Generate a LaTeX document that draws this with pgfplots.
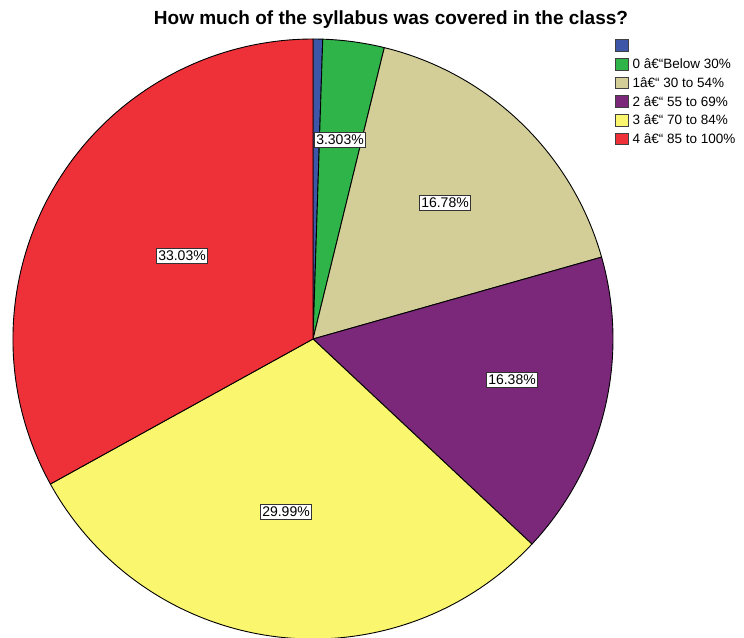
\documentclass[border=0pt]{standalone}
\usepackage{pgfplots}
\usepackage{pgfplotstable}
\pgfplotsset{compat=1.18}
\usepackage{fontspec}
\setmainfont{Liberation Sans}

\definecolor{slice0}{HTML}{3D56A8}
\definecolor{slice1}{HTML}{2FB44A}
\definecolor{slice2}{HTML}{D3CE97}
\definecolor{slice3}{HTML}{7B287B}
\definecolor{slice4}{HTML}{FAF66E}
\definecolor{slice5}{HTML}{EE3138}

% share of each category (%), label position in picture pixels
\pgfplotstableread{
idx pct lx ly show
0 0.517 0 0 0
1 3.303 340 140 1
2 16.78 445 203 1
3 16.38 512 380 1
4 29.99 286 512 1
5 33.03 182 256 1
}\piedata

\begin{document}
\begin{tikzpicture}
\begin{axis}[
  name=ax,
  x=1pt, y=1pt,
  xmin=0, xmax=744, ymin=0, ymax=637,
  y dir=reverse,
  hide axis,
  clip=true,
  legend style={draw=none, fill=none, at={(axis cs:615,39)}, anchor=north west,
    font=\fontsize{13.5}{15}\selectfont, row sep=6pt, inner sep=0pt,
    nodes={inner xsep=4pt, inner ysep=0.5pt},
    legend cell align=left},
  legend image code/.code={\draw[#1, draw=black!75, line width=0.9pt] (0pt,-5.5pt) rectangle (12.5pt,6pt);},
]
\pgfmathsetmacro{\cum}{0}
\pgfplotsforeachungrouped \i in {0,...,5}{%
  \pgfplotstablegetelem{\i}{pct}\of\piedata \let\p=\pgfplotsretval
  \pgfmathsetmacro{\sa}{90-3.6*\cum}%
  \pgfmathsetmacro{\ea}{\sa-3.6*\p}%
  \pgfmathsetmacro{\cum}{\cum+\p}%
  \global\let\cum=\cum
  \edef\temp{\noexpand\fill[fill=slice\i, draw=black, line width=0.9pt, line join=round]
    (axis cs:313,339) -- ++(\sa:300pt) arc[start angle=\sa, end angle=\ea, radius=300pt] -- cycle;}%
  \temp
}
\pgfplotsforeachungrouped \i in {1,...,5}{%
  \pgfplotstablegetelem{\i}{pct}\of\piedata \let\p=\pgfplotsretval
  \pgfplotstablegetelem{\i}{lx}\of\piedata \let\lx=\pgfplotsretval
  \pgfplotstablegetelem{\i}{ly}\of\piedata \let\ly=\pgfplotsretval
  \edef\temp{\noexpand\node[draw=black!80, line width=1pt, fill=white, inner xsep=2pt, inner ysep=3pt,
    font=\noexpand\fontsize{14}{16}\noexpand\selectfont] at (axis cs:\lx,\ly) {\p\noexpand\%};}%
  \temp
}
\node[font=\fontsize{19}{21}\selectfont\bfseries] at (axis cs:391,20) {How much of the syllabus was covered in the class?};
\addlegendimage{fill=slice0}
\addlegendimage{fill=slice1}
\addlegendimage{fill=slice2}
\addlegendimage{fill=slice3}
\addlegendimage{fill=slice4}
\addlegendimage{fill=slice5}
\legend{\strut,0 â€“Below 30\%,1â€“ 30 to 54\%,2 â€“ 55 to 69\%,3 â€“ 70 to 84\%,4 â€“ 85 to 100\%}
\end{axis}
\pgfresetboundingbox
\path (ax.south west) rectangle (ax.north east);
\end{tikzpicture}
\end{document}
